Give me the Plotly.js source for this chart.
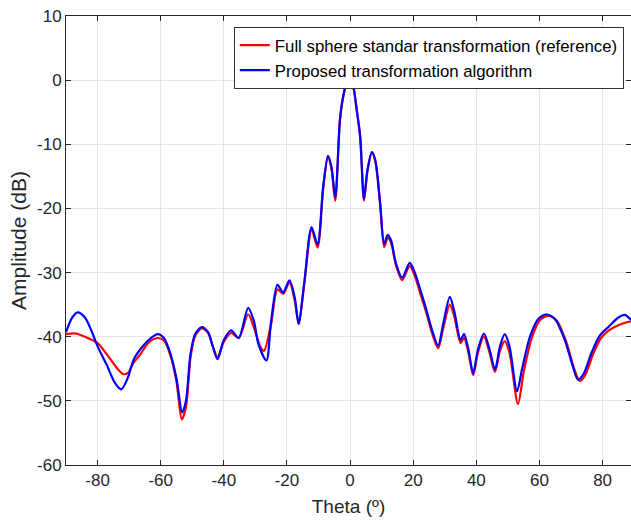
<!DOCTYPE html>
<html>
<head>
<meta charset="utf-8">
<script src="https://cdn.plot.ly/plotly-3.0.1.min.js"></script>
<style>html,body{margin:0;padding:0;background:#fff;}#chart{width:631px;height:528px;}</style>
</head>
<body>
<div id="chart"></div>
<script>
var thetaRef = [-90,-87,-84,-80,-77,-74,-72,-70.5,-68.5,-66.5,-64,-61,-59,-57,-55,-53.3,-52,-50.5,-49,-47,-45,-43.5,-42,-40,-37.7,-35.3,-32.3,-30.5,-28.5,-27.3,-25,-23,-21.2,-19.2,-17.5,-16.3,-14.5,-12.2,-10.3,-8.5,-7,-5.9,-4.7,-3.2,-2.1,-1,0,1,2.1,3.2,4.4,5.5,6.9,8,9.5,10.8,11.9,13,14.5,16.5,18.9,20.5,22.2,24,26,27.9,29.5,31.6,33,35,36.1,37.5,39,40.5,42.4,44.2,45.9,47.5,49,50.5,53.2,55,57.5,60,62.8,65.5,68.5,71,72.8,74.5,77,79.5,82,85,88,90];
var ampRef = [-39.6,-39.5,-40.0,-41.0,-42.8,-44.8,-45.8,-45.7,-44.0,-42.8,-41.0,-40.2,-40.6,-42.8,-47,-52.9,-51,-43,-39.8,-38.7,-39.4,-41.5,-43.2,-40.8,-39.4,-40.2,-36.5,-38.5,-41.5,-42.2,-38,-32.6,-33.3,-31.5,-34.5,-38.0,-31.8,-23.3,-26.1,-16.8,-12,-13.8,-18.8,-6.2,-2.4,-0.4,0,-1,-4.7,-8.9,-18.8,-14.2,-11.3,-12.7,-19.3,-26,-24.6,-25.4,-28.8,-31.2,-29,-30.5,-33.2,-36,-39.5,-41.8,-38.7,-35,-36.8,-41,-40.2,-42.5,-46,-42.5,-40,-42.5,-45.5,-42.2,-40.7,-42.5,-50.5,-45.5,-40.3,-37.5,-36.7,-37.5,-40.8,-45,-46.9,-46,-42.7,-40.2,-39,-38.2,-37.7,-37.5];

var thetaProp = [-90,-88,-86.3,-84,-82,-80,-77,-74.5,-72.5,-70.5,-68.5,-66.5,-64,-61,-59,-57,-55,-53.2,-52,-50.5,-49,-47,-45,-43.5,-42,-40,-37.7,-35.3,-32.3,-30.5,-29,-26.5,-25,-23,-21.2,-19.2,-17.5,-16.3,-14.5,-12.2,-10.3,-8.5,-7,-5.9,-4.7,-3.2,-2.1,-1,0,1,2.1,3.2,4.4,5.5,6.9,8,9.5,10.8,11.9,13,14.5,16.5,18.9,20.5,22.2,24,26,27.9,29.5,31.6,33,35,36.1,37.5,39,40.5,42.4,44.2,45.9,47.5,49,50.5,52.9,54.5,57,59.5,62.2,65,68,70.5,72.2,74,76.5,79,82,85,87,88.9,90];
var ampProp = [-39.3,-37.0,-36.2,-37.0,-39.0,-41.5,-44.5,-47.2,-48.2,-46.5,-43.5,-42.0,-40.6,-39.6,-40.2,-42.5,-46.5,-51.8,-50,-42.5,-39.5,-38.5,-39.3,-41.5,-43.5,-40.5,-39.0,-40.2,-35.5,-37.5,-41.2,-43.7,-37.5,-31.9,-33.1,-31.2,-34,-38.0,-31.5,-22.9,-25.6,-16.5,-11.8,-13.5,-18.3,-6.1,-2.3,-0.4,0,-1.0,-4.6,-8.8,-18.5,-14,-11.2,-12.5,-19,-25.5,-24.1,-25,-28.5,-30.8,-28.5,-30,-32.6,-35.5,-39,-41.4,-38,-33.8,-36,-40.5,-39.6,-42,-45.7,-42,-39.5,-42,-45.1,-41.5,-39.6,-41.5,-48.5,-45,-40,-37.3,-36.5,-37.3,-40.5,-44.5,-46.7,-45.8,-42.5,-39.9,-38.4,-37.0,-36.6,-37.3,-37.8];

var xTicks = [-80,-60,-40,-20,0,20,40,60,80];
var yTicks = [-60,-50,-40,-30,-20,-10,0,10];

var traces = [
  {x: thetaRef, y: ampRef, type: 'scatter', mode: 'lines', name: 'Full sphere standar transformation (reference)',
   line: {color: '#ff0000', width: 2.2, shape: 'spline', smoothing: 0.8}},
  {x: thetaProp, y: ampProp, type: 'scatter', mode: 'lines', name: 'Proposed transformation algorithm',
   line: {color: '#0000ff', width: 2.2, shape: 'spline', smoothing: 0.8}}
];

var fam = 'Liberation Sans, Arial, sans-serif';
var axisFont = {family: fam, size: 17, color: '#262626'};
var layout = {
  width: 631, height: 528,
  margin: {l: 66, r: 0, t: 16, b: 63},
  paper_bgcolor: '#ffffff', plot_bgcolor: '#ffffff',
  showlegend: true,
  legend: {x: 0.297, y: 0.976, xanchor: 'left', yanchor: 'top',
    bgcolor: '#ffffff', bordercolor: '#333333', borderwidth: 1,
    font: {family: fam, size: 16.8, color: '#000000'},
    tracegroupgap: 0, itemwidth: 30},
  xaxis: {range: [-90, 89], tickvals: xTicks, ticktext: xTicks.map(String),
    showgrid: true, gridcolor: '#e6e6e6', gridwidth: 1, zeroline: false,
    showline: true, linecolor: '#262626', linewidth: 1, mirror: 'ticks',
    ticks: 'inside', ticklen: 5, tickcolor: '#262626',
    tickfont: axisFont,
    title: {text: 'Theta (º)', font: {family: fam, size: 19, color: '#262626'}, standoff: 10}},
  yaxis: {range: [-60, 10], tickvals: yTicks, ticktext: yTicks.map(String),
    showgrid: true, gridcolor: '#e6e6e6', gridwidth: 1, zeroline: false,
    showline: true, linecolor: '#262626', linewidth: 1, mirror: 'ticks',
    ticks: 'inside', ticklen: 5, tickcolor: '#262626',
    tickfont: axisFont,
    title: {text: 'Amplitude (dB)', font: {family: fam, size: 21, color: '#262626'}, standoff: 4}}
};

Plotly.newPlot('chart', traces, layout, {displayModeBar: false, staticPlot: true});
</script>
</body>
</html>
